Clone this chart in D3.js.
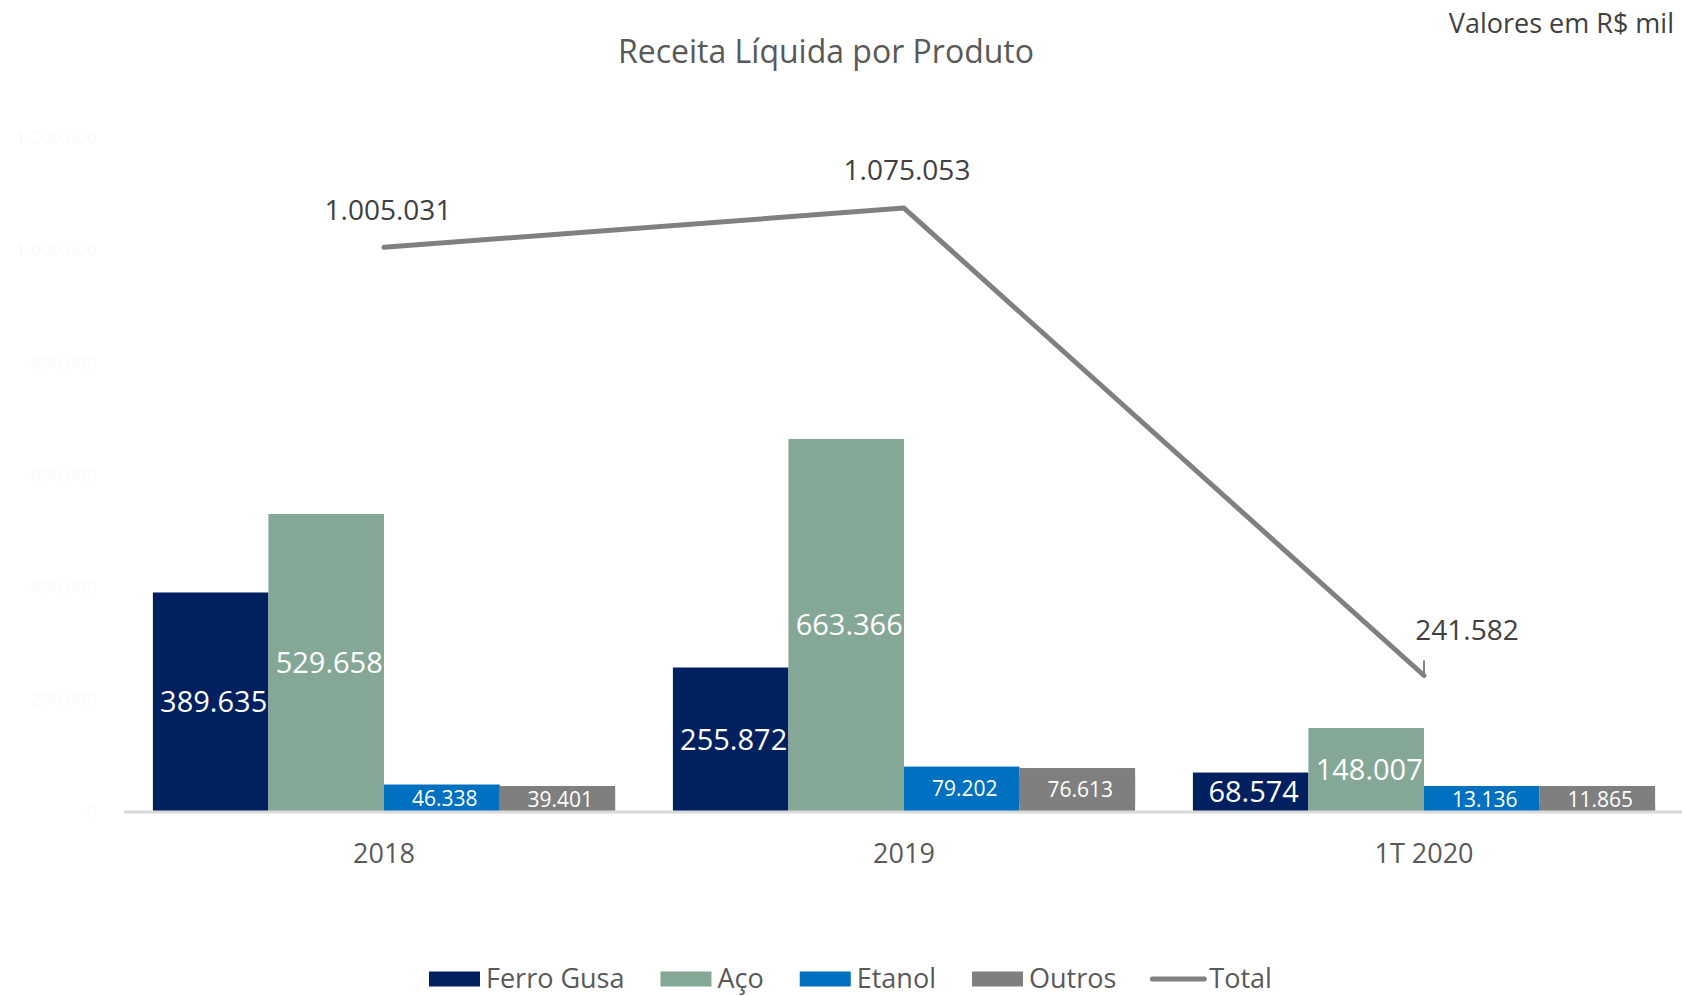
<!DOCTYPE html>
<html>
<head>
<meta charset="utf-8">
<script src="https://cdn.jsdelivr.net/npm/d3@7"></script>
<style>
	html, body { margin: 0; padding: 0; background: #fff; }
	svg { display: block; font-family: "Open Sans", "Noto Sans", sans-serif; }
</style>
</head>
<body>
<div id="chart"></div>
<script>
"use strict";

const width = 1682, height = 996;

//  Data (R$ mil)
const categories = ['2018', '2019', '1T 2020'];
const seriesNames = ['Ferro Gusa', 'Aço', 'Etanol', 'Outros'];
const ferroGusa = [389635, 255872, 68574];
const aco = [529658, 663366, 148007];
const etanol = [46338, 79202, 13136];
const outros = [39401, 76613, 11865];
const total = [1005031, 1075053, 241582];
const yTicks = [0, 200000, 400000, 600000, 800000, 1000000, 1200000];

const seriesValues = [ferroGusa, aco, etanol, outros];
const seriesColors = ['#002060', '#85a796', '#0070c0', '#7f7f7f'];
const bigLabel = [true, true, false, false];
const lineColor = '#808080';

const br = d3.formatLocale({ decimal: ',', thousands: '.', grouping: [3], currency: ['R$', ''] });
const fmt = br.format(',d');

const svg = d3.select('#chart').append('svg')
	.attr('width', width)
	.attr('height', height);

//  Scales
const x = d3.scaleBand()
	.domain(categories)
	.range([124, 1684])
	.paddingInner(0)
	.paddingOuter(0);

const xInner = d3.scaleBand()
	.domain(seriesNames)
	.range([0, x.bandwidth()])
	.paddingOuter(0.25);

const y = d3.scaleLinear()
	.domain([0, 1200000])
	.range([811, 138]);

//  Faint value axis (almost white in the original)
svg.append('g')
	.attr('transform', 'translate(100,0)')
	.call(d3.axisLeft(y).tickValues(yTicks).tickFormat(fmt).tickSize(0))
	.call(g => g.select('.domain').remove())
	.call(g => g.selectAll('text')
		.attr('fill', '#fafafa')
		.style('font-size', '18px')
		.style('font-family', '"Open Sans", sans-serif'));

//  Bars
const rows = [];
categories.forEach((cat, i) => seriesNames.forEach((name, s) =>
	rows.push({ cat: cat, name: name, value: seriesValues[s][i], color: seriesColors[s], big: bigLabel[s] })
));

const groups = svg.selectAll('.bar')
	.data(rows)
	.join('g')
	.classed('bar', true)
	.attr('transform', d => `translate(${x(d.cat) + xInner(d.name)},0)`);

groups.append('rect')
	.attr('x', 0)
	.attr('y', d => y(d.value))
	.attr('width', xInner.bandwidth())
	.attr('height', d => y(0) - y(d.value))
	.attr('fill', d => d.color);

//  Category axis line
svg.append('line')
	.attr('x1', 124)
	.attr('x2', width)
	.attr('y1', y(0) + 1)
	.attr('y2', y(0) + 1)
	.attr('stroke', '#d9d9d9')
	.attr('stroke-width', 3);

//  Bar data labels; small ones carry a filled box like in Excel
const boxH = 27;
const boxCenter = d => Math.min((y(d.value) + y(0)) / 2, y(0) + 2 - boxH / 2);

groups.filter(d => !d.big)
	.append('rect')
	.attr('x', 0)
	.attr('width', xInner.bandwidth())
	.attr('y', d => boxCenter(d) - boxH / 2)
	.attr('height', boxH)
	.attr('fill', d => d.color);

groups.append('text')
	.attr('x', xInner.bandwidth() / 2 + 3)
	.attr('y', d => d.big
		? (y(d.value) + y(0)) / 2 + 29 * 0.36
		: boxCenter(d) + 21 * 0.36)
	.attr('text-anchor', 'middle')
	.attr('fill', '#fff')
	.style('font-size', d => d.big ? '29px' : '21px')
	.text(d => fmt(d.value));

//  Category labels
svg.append('g')
	.selectAll('text')
	.data(categories)
	.join('text')
	.attr('x', d => x(d) + x.bandwidth() / 2)
	.attr('y', 863)
	.attr('text-anchor', 'middle')
	.attr('fill', '#595959')
	.style('font-size', '27px')
	.text(d => d);

//  Total line
const pts = categories.map((c, i) => ({ x: x(c) + x.bandwidth() / 2, y: y(total[i]), v: total[i] }));

svg.append('path')
	.datum(pts)
	.attr('d', d3.line().x(p => p.x).y(p => p.y))
	.attr('fill', 'none')
	.attr('stroke', lineColor)
	.attr('stroke-width', 5)
	.attr('stroke-linejoin', 'round')
	.attr('stroke-linecap', 'round');

//  Last label was dragged off the point, with an Excel leader line
const labelShift = [[4, -27], [3, -28], [43, -36]];
const last = pts[pts.length - 1];
svg.append('line')
	.attr('x1', last.x).attr('x2', last.x)
	.attr('y1', last.y - 15).attr('y2', last.y)
	.attr('stroke', lineColor)
	.attr('stroke-width', 2);

svg.append('g')
	.selectAll('text')
	.data(pts)
	.join('text')
	.attr('x', (p, i) => p.x + labelShift[i][0])
	.attr('y', (p, i) => p.y + labelShift[i][1])
	.attr('text-anchor', 'middle')
	.attr('fill', '#404040')
	.style('font-size', '28px')
	.text(p => fmt(p.v));

//  Titles
svg.append('text')
	.attr('x', 826)
	.attr('y', 63)
	.attr('text-anchor', 'middle')
	.attr('fill', '#595959')
	.style('font-size', '32px')
	.text('Receita Líquida por Produto');

svg.append('text')
	.attr('x', 1674)
	.attr('y', 33)
	.attr('text-anchor', 'end')
	.attr('fill', '#404040')
	.style('font-size', '27px')
	.text('Valores em R$ mil');

//  Legend
const legendItems = seriesNames.map((n, i) => ({ name: n, color: seriesColors[i], line: false }))
	.concat([{ name: 'Total', color: lineColor, line: true }]);

const legend = svg.append('g').attr('transform', 'translate(429,979)');
let cursor = 0;
legendItems.forEach(item => {
	const g = legend.append('g').attr('transform', `translate(${cursor},0)`);
	if (item.line)
		g.append('line')
			.attr('x1', 0).attr('x2', 52)
			.attr('stroke', item.color)
			.attr('stroke-width', 5)
			.attr('stroke-linecap', 'round');
	else
		g.append('rect')
			.attr('x', 0).attr('y', -7.5)
			.attr('width', 51).attr('height', 15)
			.attr('fill', item.color);
	const t = g.append('text')
		.attr('x', 57)
		.attr('y', 9)
		.attr('fill', '#595959')
		.style('font-size', '27px')
		.text(item.name);
	cursor += 57 + t.node().getComputedTextLength() + 36;
});
</script>
</body>
</html>
